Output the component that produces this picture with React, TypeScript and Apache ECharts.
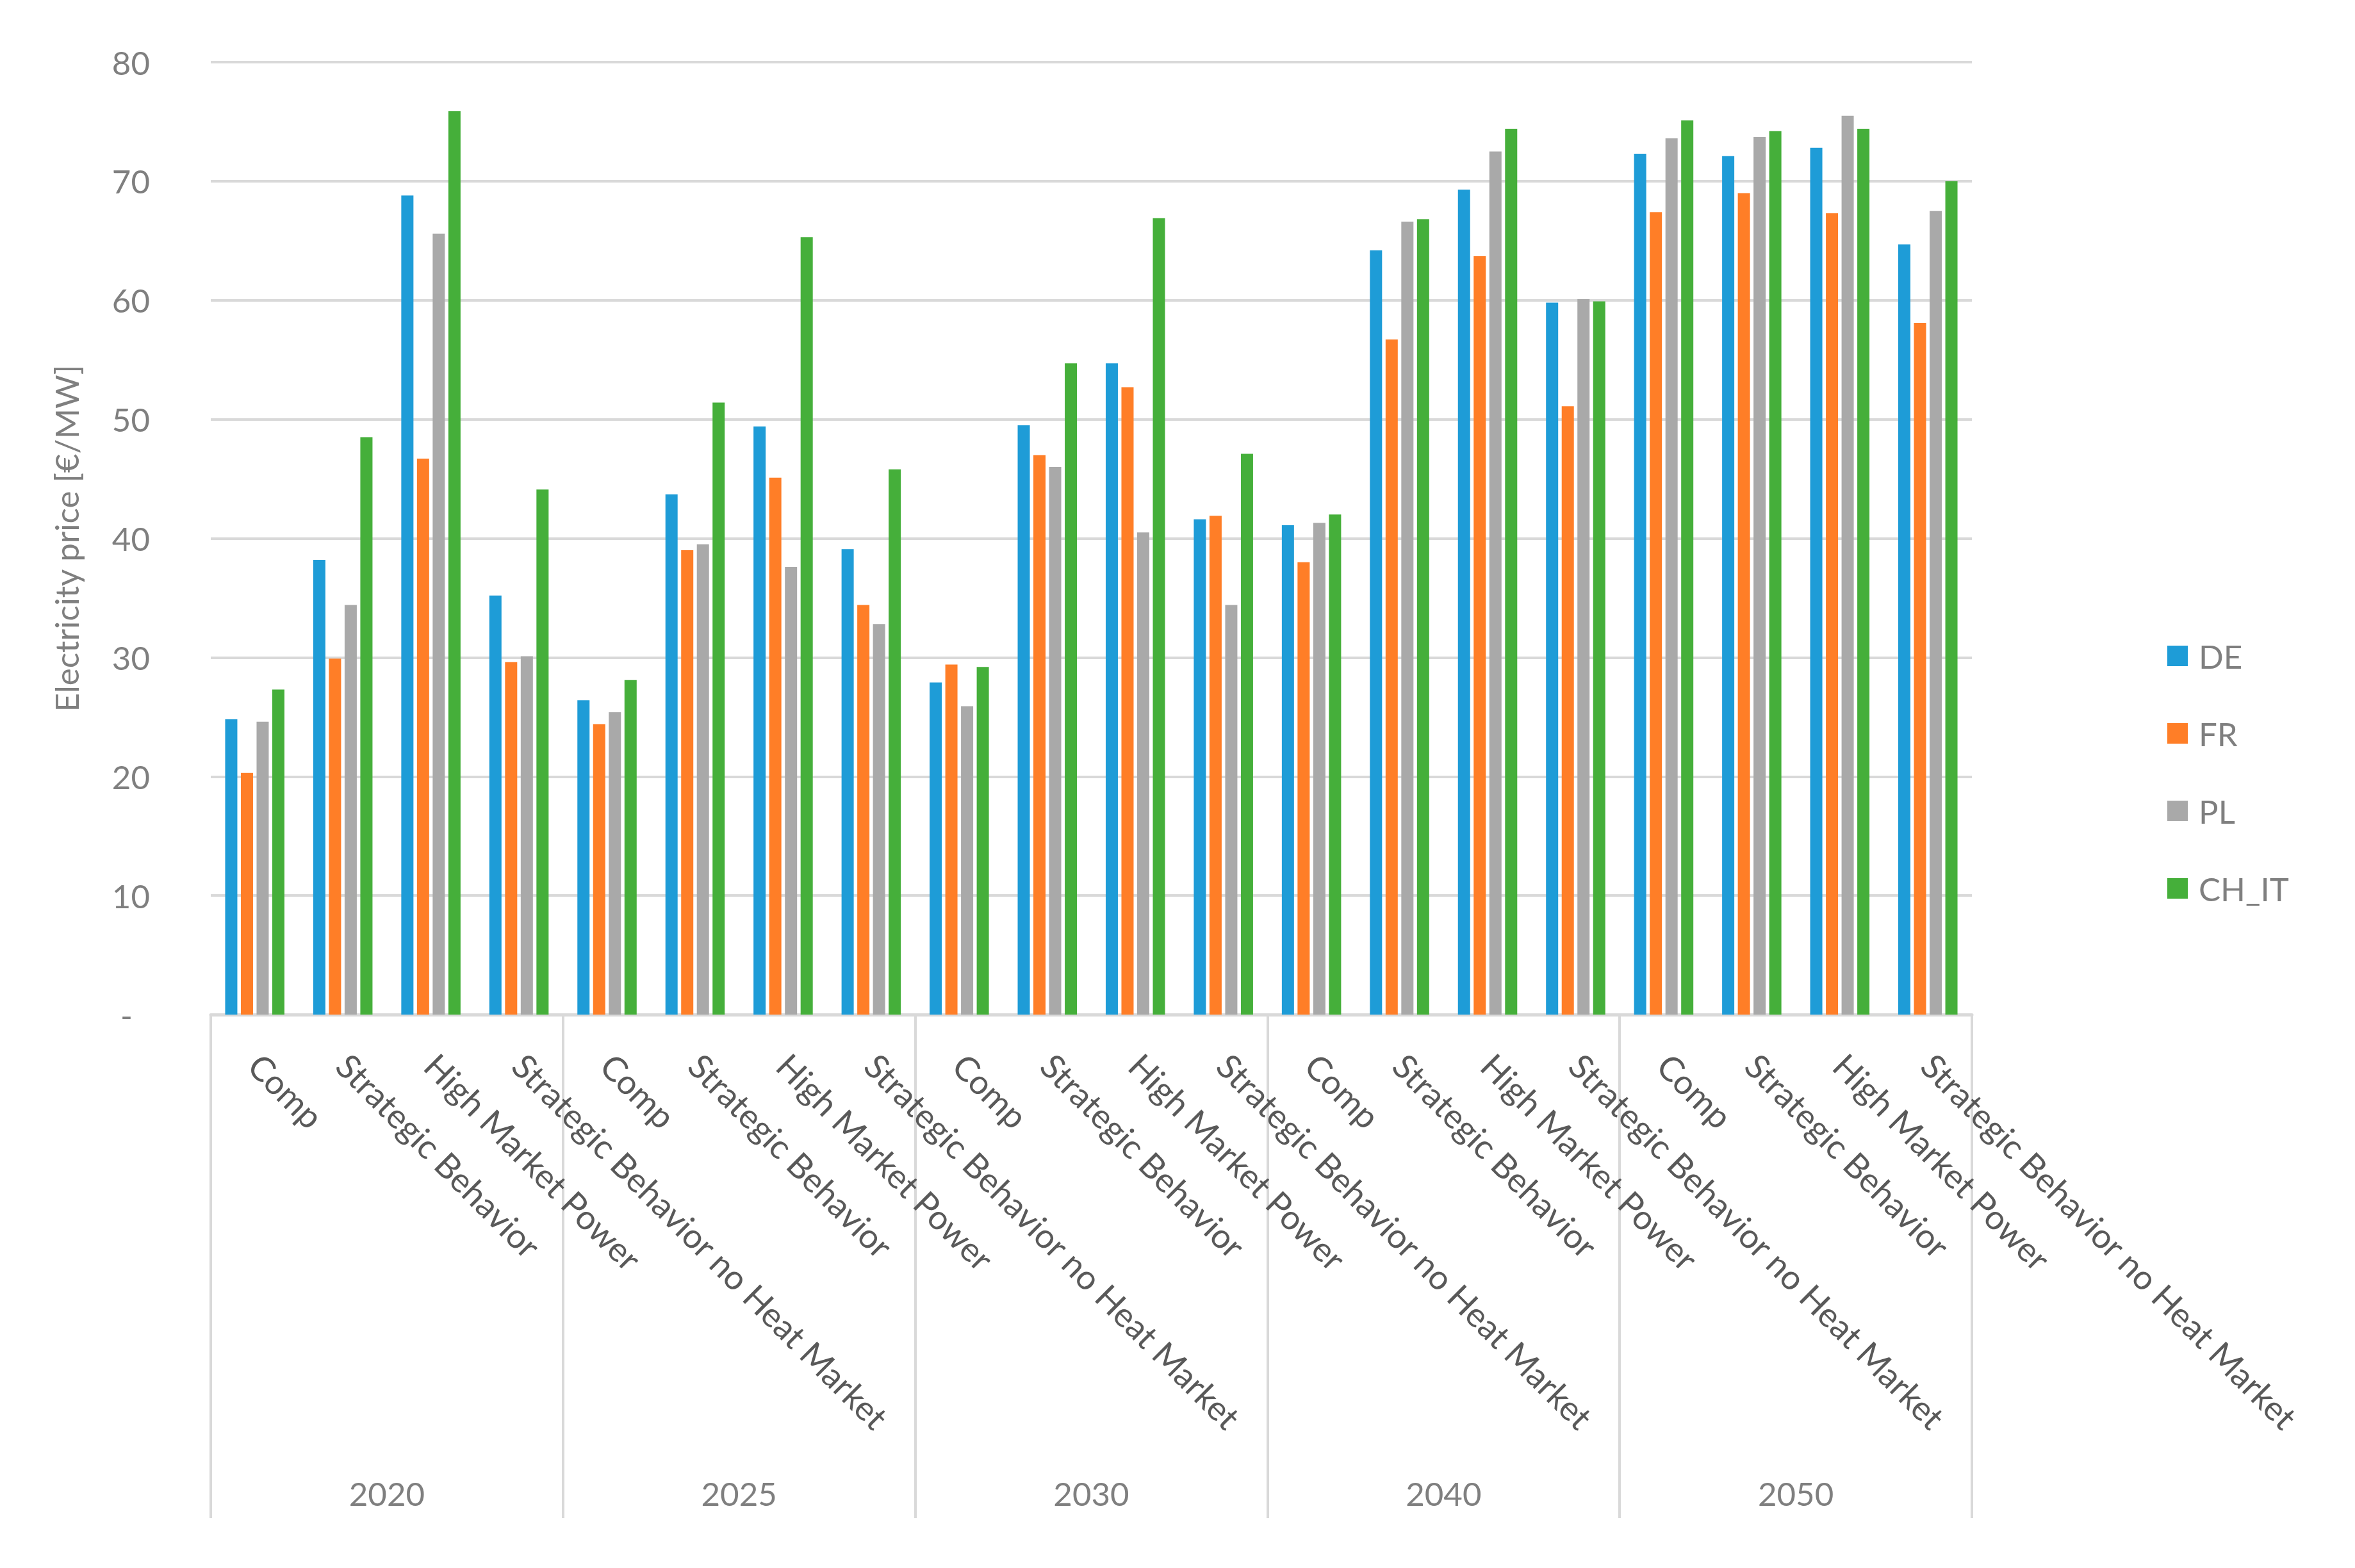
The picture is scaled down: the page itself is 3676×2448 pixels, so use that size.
import React, { useEffect, useRef } from 'react';
import * as echarts from 'echarts';

const years = ['2020', '2025', '2030', '2040', '2050'];
const scenarios = ['Comp', 'Strategic Behavior', 'High Market Power', 'Strategic Behavior no Heat Market'];
const categories = years.flatMap((y) => scenarios.map((s) => `${y}|${s}`));

const seriesNames = ['DE', 'FR', 'PL', 'CH_IT'];
const seriesColors = ['#1E9CD7', '#FF7E27', '#A9A9A9', '#45AF3A'];

const DE = [24.8, 38.2, 68.8, 35.2, 26.4, 43.7, 49.4, 39.1, 27.9, 49.5, 54.7, 41.6, 41.1, 64.2, 69.3, 59.8, 72.3, 72.1, 72.8, 64.7];
const FR = [20.3, 29.9, 46.7, 29.6, 24.4, 39.0, 45.1, 34.4, 29.4, 47.0, 52.7, 41.9, 38.0, 56.7, 63.7, 51.1, 67.4, 69.0, 67.3, 58.1];
const PL = [24.6, 34.4, 65.6, 30.1, 25.4, 39.5, 37.6, 32.8, 25.9, 46.0, 40.5, 34.4, 41.3, 66.6, 72.5, 60.1, 73.6, 73.7, 75.5, 67.5];
const CH_IT = [27.3, 48.5, 75.9, 44.1, 28.1, 51.4, 65.3, 45.8, 29.2, 54.7, 66.9, 47.1, 42.0, 66.8, 74.4, 59.9, 75.1, 74.2, 74.4, 70.0];
const seriesValues = [DE, FR, PL, CH_IT];

const yMin = 0;
const yMax = 80;
const yInterval = 10;
const yTitle = 'Electricity price [€/MW]';

export default function App() {
  const ref = useRef<HTMLDivElement>(null);

  useEffect(() => {
    if (!ref.current) return;
    const chart = echarts.init(ref.current, null, { renderer: 'svg' });
    const font = 'Lato';
    const grey = '#7f7f7f';
    const lineGrey = '#d9d9d9';

    chart.setOption({
      animation: false,
      backgroundColor: '#ffffff',
      textStyle: { fontFamily: font },
      grid: { left: 329, right: 598, top: 97, bottom: 864, containLabel: false },
      legend: {
        orient: 'vertical',
        left: 3378,
        top: 989,
        icon: 'rect',
        itemWidth: 32,
        itemHeight: 32,
        itemGap: 61,
        data: seriesNames,
        textStyle: { color: grey, fontSize: 51, lineHeight: 60, fontFamily: font, padding: [0, 0, 0, 12] },
      },
      xAxis: [
        {
          type: 'category',
          data: categories,
          axisLine: { show: true, lineStyle: { color: lineGrey, width: 5 } },
          axisTick: { show: false },
          splitLine: { show: false },
          axisLabel: {
            interval: 0,
            rotate: -45,
            margin: 70,
            color: '#595959',
            fontSize: 53,
            fontFamily: font,
            formatter: (v: string) => v.split('|')[1],
          },
        },
        {
          type: 'category',
          data: years,
          position: 'bottom',
          offset: 0,
          axisLine: { show: false },
          axisTick: { show: true, interval: 0, length: 786, lineStyle: { color: lineGrey, width: 4 } },
          splitLine: { show: false },
          axisLabel: { interval: 0, margin: 722, color: grey, fontSize: 51, fontFamily: font },
        },
      ],
      yAxis: {
        type: 'value',
        min: yMin,
        max: yMax,
        interval: yInterval,
        axisLine: { show: false },
        axisTick: { show: false },
        splitLine: { show: true, lineStyle: { color: lineGrey, width: 4 } },
        axisLabel: {
          margin: 95,
          color: grey,
          fontSize: 51,
          fontFamily: font,
          formatter: (v: number) => (v === 0 ? '{d|-}' : String(v)),
          rich: { d: { padding: [0, 27, 0, 0], color: grey, fontSize: 51, fontFamily: font } },
        },
        name: yTitle,
        nameLocation: 'middle',
        nameRotate: 90,
        nameGap: 200,
        nameTextStyle: { color: grey, fontSize: 51, fontFamily: font },
      },
      series: seriesNames.map((name, i) => ({
        name,
        type: 'bar',
        xAxisIndex: 0,
        data: seriesValues[i],
        barWidth: 19,
        barGap: '29%',
        itemStyle: { color: seriesColors[i] },
      })),
    });

    return () => chart.dispose();
  }, []);

  return <div ref={ref} style={{ position: 'absolute', left: 0, top: 0, width: 3676, height: 2448 }} />;
}
